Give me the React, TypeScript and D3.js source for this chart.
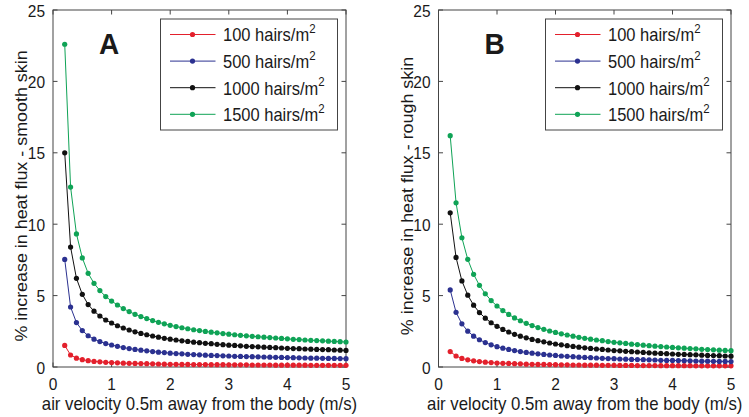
import React from "react";
import * as d3 from "d3";

const velocity = [
  0.2, 0.3, 0.4, 0.5, 0.6, 0.7, 0.8, 0.9, 1.0,
  1.1, 1.2, 1.3, 1.4, 1.5, 1.6, 1.7, 1.8, 1.9, 2.0,
  2.1, 2.2, 2.3, 2.4, 2.5, 2.6, 2.7, 2.8, 2.9, 3.0,
  3.1, 3.2, 3.3, 3.4, 3.5, 3.6, 3.7, 3.8, 3.9, 4.0,
  4.1, 4.2, 4.3, 4.4, 4.5, 4.6, 4.7, 4.8, 4.9, 5.0,
];

const seriesLabels = ["100 hairs/m", "500 hairs/m", "1000 hairs/m", "1500 hairs/m"];

// Panel A - smooth skin
const smooth100 = [
  1.51, 0.84, 0.62, 0.51, 0.44, 0.39, 0.36, 0.33, 0.31,
  0.29, 0.27, 0.26, 0.25, 0.24, 0.23, 0.22, 0.21, 0.20, 0.19,
  0.19, 0.18, 0.18, 0.17, 0.17, 0.17, 0.16, 0.16, 0.16, 0.15,
  0.15, 0.15, 0.15, 0.14, 0.14, 0.14, 0.14, 0.13, 0.13, 0.13,
  0.13, 0.13, 0.13, 0.12, 0.12, 0.12, 0.12, 0.12, 0.12, 0.12,
];
const smooth500 = [
  7.53, 4.2, 3.11, 2.55, 2.19, 1.95, 1.78, 1.64, 1.54,
  1.45, 1.36, 1.29, 1.23, 1.18, 1.13, 1.08, 1.04, 1.01, 0.97,
  0.94, 0.92, 0.89, 0.87, 0.85, 0.83, 0.81, 0.80, 0.78, 0.77,
  0.75, 0.74, 0.73, 0.72, 0.71, 0.70, 0.69, 0.68, 0.67, 0.66,
  0.65, 0.64, 0.63, 0.62, 0.62, 0.61, 0.60, 0.60, 0.59, 0.58,
];
const smooth1000 = [
  15.0, 8.4, 6.21, 5.09, 4.37, 3.91, 3.57, 3.29, 3.08,
  2.89, 2.73, 2.59, 2.46, 2.35, 2.26, 2.17, 2.09, 2.01, 1.95,
  1.89, 1.83, 1.79, 1.74, 1.70, 1.66, 1.63, 1.59, 1.56, 1.53,
  1.51, 1.48, 1.45, 1.43, 1.41, 1.39, 1.37, 1.35, 1.33, 1.31,
  1.29, 1.28, 1.26, 1.25, 1.23, 1.22, 1.21, 1.19, 1.18, 1.16,
];
const smooth1500 = [
  22.6, 12.6, 9.32, 7.64, 6.56, 5.86, 5.35, 4.93, 4.62,
  4.34, 4.09, 3.88, 3.69, 3.53, 3.39, 3.25, 3.13, 3.02, 2.92,
  2.83, 2.75, 2.68, 2.61, 2.55, 2.49, 2.44, 2.39, 2.34, 2.30,
  2.26, 2.22, 2.18, 2.15, 2.12, 2.09, 2.06, 2.03, 2.00, 1.97,
  1.94, 1.92, 1.89, 1.87, 1.85, 1.83, 1.81, 1.79, 1.77, 1.75,
];

// Panel B - rough skin
const rough100 = [
  1.08, 0.77, 0.60, 0.50, 0.43, 0.38, 0.34, 0.31, 0.28,
  0.26, 0.25, 0.23, 0.22, 0.20, 0.19, 0.18, 0.18, 0.17, 0.16,
  0.15, 0.15, 0.14, 0.14, 0.13, 0.13, 0.13, 0.12, 0.12, 0.12,
  0.11, 0.11, 0.11, 0.10, 0.10, 0.10, 0.10, 0.09, 0.09, 0.09,
  0.09, 0.09, 0.09, 0.08, 0.08, 0.08, 0.08, 0.08, 0.08, 0.08,
];
const rough500 = [
  5.4, 3.83, 3.02, 2.51, 2.16, 1.91, 1.71, 1.55, 1.42,
  1.32, 1.23, 1.15, 1.08, 1.02, 0.97, 0.92, 0.88, 0.84, 0.81,
  0.77, 0.75, 0.72, 0.69, 0.67, 0.65, 0.63, 0.61, 0.59, 0.58,
  0.56, 0.55, 0.53, 0.52, 0.51, 0.50, 0.49, 0.47, 0.46, 0.46,
  0.45, 0.44, 0.43, 0.42, 0.41, 0.41, 0.40, 0.39, 0.39, 0.38,
];
const rough1000 = [
  10.8, 7.67, 6.03, 5.03, 4.33, 3.81, 3.42, 3.10, 2.85,
  2.63, 2.45, 2.29, 2.16, 2.04, 1.93, 1.84, 1.76, 1.68, 1.61,
  1.55, 1.49, 1.44, 1.39, 1.34, 1.30, 1.26, 1.23, 1.19, 1.15,
  1.13, 1.10, 1.07, 1.05, 1.02, 0.99, 0.97, 0.95, 0.93, 0.91,
  0.89, 0.88, 0.86, 0.85, 0.83, 0.81, 0.80, 0.79, 0.77, 0.76,
];
const rough1500 = [
  16.2, 11.5, 9.05, 7.54, 6.49, 5.72, 5.13, 4.65, 4.27,
  3.95, 3.68, 3.44, 3.24, 3.06, 2.90, 2.76, 2.64, 2.52, 2.42,
  2.32, 2.24, 2.16, 2.08, 2.01, 1.95, 1.89, 1.84, 1.78, 1.73,
  1.69, 1.65, 1.60, 1.57, 1.53, 1.49, 1.46, 1.43, 1.40, 1.37,
  1.34, 1.32, 1.29, 1.27, 1.24, 1.22, 1.20, 1.18, 1.16, 1.14,
];

const xTicks = [0, 1, 2, 3, 4, 5];
const yTicks = [0, 5, 10, 15, 20, 25];
const xTitle = "air velocity 0.5m away from the body (m/s)";

const COLORS = ["#e3202c", "#2b3190", "#111111", "#0fa356"];
const FONT = "'Liberation Sans', Arial, Helvetica, sans-serif";
const AXIS = "#444";
const TEXT = "#1a1a1a";

type PanelProps = {
  left: number;
  right: number;
  letter: string;
  yTitle: string;
  series: number[][];
  legendLeft: number;
};

const TOP = 10;
const BOTTOM = 367;

function Panel({ left, right, letter, yTitle, series, legendLeft }: PanelProps) {
  const x = d3.scaleLinear().domain([0, 5]).range([left, right]);
  const y = d3.scaleLinear().domain([0, 25]).range([BOTTOM, TOP]);
  const line = d3
    .line<number>()
    .x((_, i) => x(velocity[i]))
    .y((d) => y(d));
  const tl = 4.5;
  const legendW = 177;
  const legendTop = 19;
  const legendH = 111;
  return (
    <g>
      <rect x={left} y={TOP} width={right - left} height={BOTTOM - TOP} fill="white" stroke={AXIS} strokeWidth={1} />
      {xTicks.map((t) => (
        <g key={"x" + t}>
          <line x1={x(t)} x2={x(t)} y1={BOTTOM} y2={BOTTOM - tl} stroke={AXIS} />
          <line x1={x(t)} x2={x(t)} y1={TOP} y2={TOP + tl} stroke={AXIS} />
          <text
            transform={`translate(${x(t)},390) scale(1,1.12)`}
            textAnchor="middle"
            fontSize={15.5}
            fontFamily={FONT}
            fill={TEXT}
          >
            {t}
          </text>
        </g>
      ))}
      {yTicks.map((t) => (
        <g key={"y" + t}>
          <line x1={left} x2={left + tl} y1={y(t)} y2={y(t)} stroke={AXIS} />
          <line x1={right} x2={right - tl} y1={y(t)} y2={y(t)} stroke={AXIS} />
          <text
            transform={`translate(${left - 8},${y(t) + 6.5}) scale(1,1.12)`}
            textAnchor="end"
            fontSize={15.5}
            fontFamily={FONT}
            fill={TEXT}
          >
            {t}
          </text>
        </g>
      ))}
      <text
        transform={`translate(${(left + right) / 2},410) scale(1,1.12)`}
        textAnchor="middle"
        fontSize={16.8}
        fontFamily={FONT}
        fill={TEXT}
      >
        {xTitle}
      </text>
      <text
        transform={`translate(${left - 26},196) rotate(-90) scale(1.065,1)`}
        textAnchor="middle"
        fontSize={16.8}
        fontFamily={FONT}
        fill={TEXT}
      >
        {yTitle}
      </text>
      {series.map((s, si) => (
        <g key={"s" + si}>
          <path d={line(s) || ""} fill="none" stroke={COLORS[si]} strokeWidth={1} />
          {s.map((v, i) => (
            <circle key={i} cx={x(velocity[i])} cy={y(v)} r={2.6} fill={COLORS[si]} />
          ))}
        </g>
      ))}
      <text
        transform={`translate(${left + 46},54) scale(1,1.07)`}
        fontSize={28}
        fontWeight="bold"
        fontFamily={FONT}
        fill={TEXT}
      >
        {letter}
      </text>
      <rect x={legendLeft} y={legendTop} width={legendW} height={legendH} fill="white" stroke={AXIS} strokeWidth={1} />
      {seriesLabels.map((lab, i) => {
        const ly = 34.5 + i * 26.6;
        return (
          <g key={"l" + i}>
            <line x1={legendLeft + 9.5} x2={legendLeft + 55} y1={ly} y2={ly} stroke={COLORS[i]} strokeWidth={1} />
            <circle cx={legendLeft + 32} cy={ly} r={2.6} fill={COLORS[i]} />
            <text
              transform={`translate(${legendLeft + 62.5},${ly + 6.8}) scale(1,1.08)`}
              fontSize={16.5}
              fontFamily={FONT}
              fill={TEXT}
            >
              {lab}
              <tspan dy={-7.5} fontSize={11.5}>2</tspan>
            </text>
          </g>
        );
      })}
    </g>
  );
}

export default function App() {
  return (
    <svg width={749} height={417} style={{ position: "absolute", left: 0, top: 0, background: "white" }}>
      <rect width={749} height={417} fill="white" />
      <Panel
        left={53}
        right={346}
        letter="A"
        yTitle="% increase in heat flux - smooth skin"
        series={[smooth100, smooth500, smooth1000, smooth1500]}
        legendLeft={160.5}
      />
      <Panel
        left={438.5}
        right={731}
        letter="B"
        yTitle="% increase in heat flux - rough skin"
        series={[rough100, rough500, rough1000, rough1500]}
        legendLeft={545.5}
      />
    </svg>
  );
}
